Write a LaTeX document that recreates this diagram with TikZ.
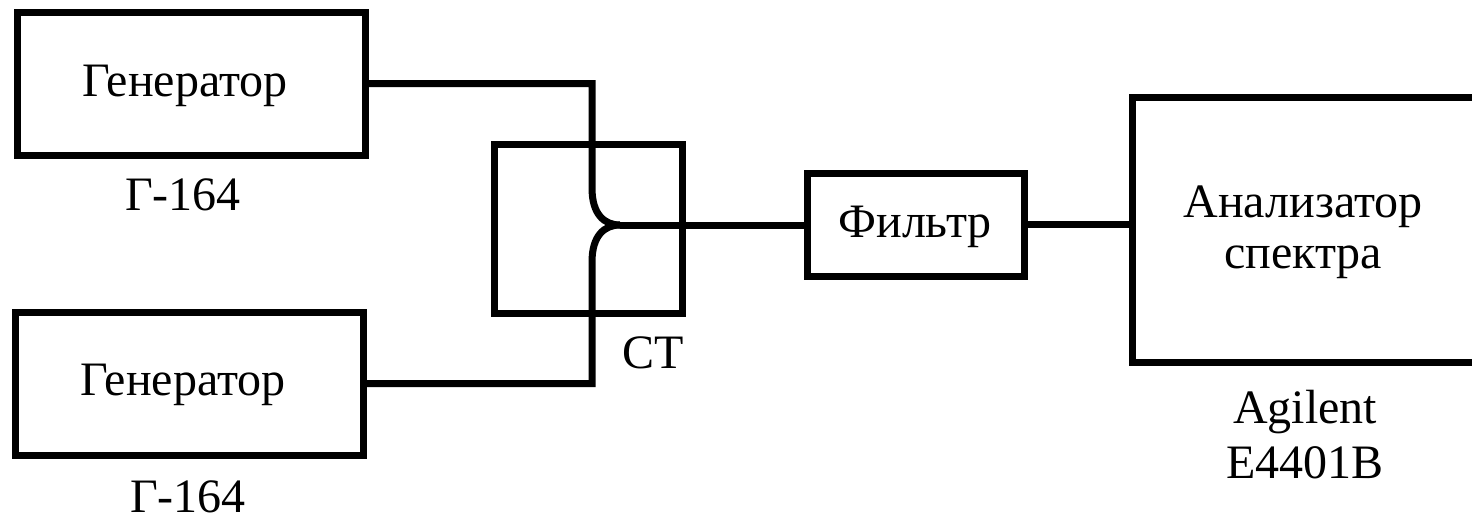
\documentclass[tikz,border=0pt]{standalone}
\usepackage{fontspec}
\setmainfont{Liberation Serif}
\begin{document}
\begin{tikzpicture}[x=0.5pt,y=-0.5pt,
  every node/.style={font=\fontsize{24pt}{26.5pt}\selectfont},
  blk/.style={draw, line width=3.5pt, inner sep=0pt, align=center},
  wire/.style={line width=3.5pt},
  lbl/.style={anchor=base, inner sep=0pt, align=center}]
\useasboundingbox (0,0) rectangle (1472,520);
\clip (0,0) rectangle (1472,520);
% blocks
\node[blk, minimum width=174pt, minimum height=71.5pt] (g1) at (191,83.5) {};
\node[blk, minimum width=174pt, minimum height=71.5pt] (g2) at (189,383.5) {};
\node[blk, minimum width=94pt, minimum height=84.5pt] (ct) at (588,228.5) {};
\node[blk, minimum width=108.5pt, minimum height=51.5pt] (f) at (915.5,224.5) {};
\node[blk, minimum width=174pt, minimum height=132.5pt] (an) at (1306,229.5) {};
\node[lbl] (g1t) at (185,96) {Генератор};
\node[lbl] (g2t) at (183,395) {Генератор};
\node[lbl] (ft) at (915,237) {Фильтр};
\node[lbl] (ant) at (1303,217) {Анализатор};
\node[lbl] (ans) at (1303,268) {спектра};
% labels
\node[lbl] (l1) at (183,210) {Г-164};
\node[lbl] (l2) at (188,512) {Г-164};
\node[lbl] (lct) at (653,368) {CT};
\node[lbl] (la1) at (1305,423) {Agilent};
\node[lbl] (la2) at (1305,478) {E4401B};
% junction
\coordinate (j) at (620,225);
\coordinate (a1) at (592,188);
\coordinate (a2) at (592,262);
% connectors
\draw[wire] (g1.east) -- (g1.east -| a1) -- (a1) .. controls (592,214) and (604,225) .. (j);
\draw[wire] (g2.east) -- (g2.east -| a2) -- (a2) .. controls (592,236) and (604,225) .. (j);
\draw[wire] (j) -- (j -| f.west);
\draw[wire] (f.east) -- (f.east -| an.west);
\end{tikzpicture}
\end{document}
